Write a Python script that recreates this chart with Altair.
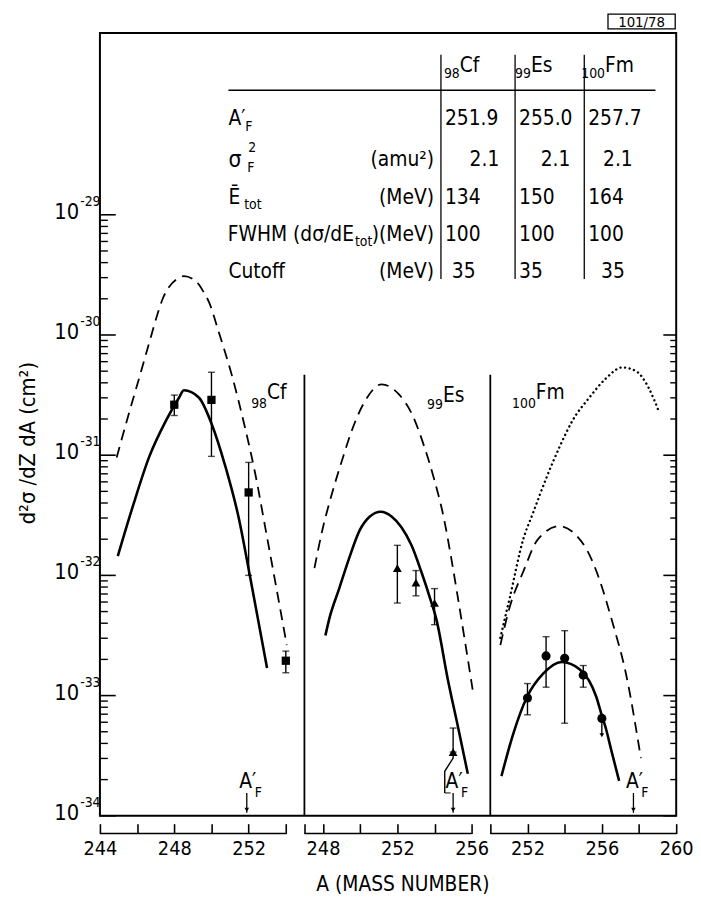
import altair as alt
import pandas as pd

FONT = "Liberation Sans Narrow, DejaVu Sans Condensed, Roboto Condensed, Arial Narrow, sans-serif"

# ---------------- data ----------------
panel_elem = ["Cf", "Es", "Fm"]
panel_Z = ["98", "99", "100"]
panel_offset = [0, 8, 15]                      # shift of each panel's A axis on the common axis
panel_span = [[244, 254], [247, 256], [250, 260]]
panel_ticks = [[244, 246, 248, 250, 252, 254],
               [247, 248, 250, 252, 254, 256],
               [250, 252, 254, 256, 258, 260]]
panel_labels = [[244, 248, 252], [248, 252, 256], [252, 256, 260]]

# table
AF = [251.9, 255.0, 257.7]
sigma2 = ["2.1", "2.1", "2.1"]
Etot = ["134", "150", "164"]
FWHM = ["100", "100", "100"]
cutoff = ["35", "35", "35"]

# curves: A and log10(d2sigma/dZdA)
cf_dash_A = [244.90, 245.49, 246.07, 246.66, 247.09, 247.40, 247.72, 248.10, 248.52, 248.95,
             249.32, 249.64, 249.85, 250.38, 251.07, 251.82, 252.35, 252.88, 253.57, 254.05]
cf_dash_L = [-31.02, -30.69, -30.38, -30.06, -29.83, -29.69, -29.60, -29.54, -29.51, -29.53,
             -29.58, -29.66, -29.72, -29.97, -30.32, -30.78, -31.15, -31.59, -32.17, -32.58]
cf_solid_A = [244.96, 245.76, 246.66, 247.56, 248.26, 248.52, 249.32, 250.01, 250.76, 251.45,
              252.1, 252.99]
cf_solid_L = [-31.84, -31.43, -31.01, -30.71, -30.52, -30.46, -30.52, -30.74, -31.10, -31.51,
              -32.03, -32.77]
es_dash_A = [247.54, 247.97, 248.5, 249.03, 249.56, 250.26, 251.16, 252.06, 252.76, 253.45,
             253.98, 254.51, 254.88, 255.26, 255.68, 256.05]
es_dash_L = [-31.94, -31.62, -31.31, -31.04, -30.79, -30.55, -30.41, -30.49, -30.65, -30.93,
             -31.20, -31.53, -31.84, -32.19, -32.59, -32.95]
es_solid_A = [248.13, 248.34, 248.87, 249.4, 249.99, 250.52, 251.11, 251.69, 252.22, 252.76,
              253.29, 253.82, 254.09, 254.72, 255.26, 255.79]
es_solid_L = [-32.50, -32.36, -32.11, -31.86, -31.62, -31.51, -31.47, -31.51, -31.60, -31.75,
              -31.97, -32.22, -32.36, -32.87, -33.26, -33.65]
fm_dot_A = [250.54, 251.07, 251.77, 252.30, 253.04, 253.73, 254.43, 255.33, 256.23, 257.09,
            257.83, 258.52, 259.05]
fm_dot_L = [-32.52, -32.17, -31.70, -31.48, -31.18, -30.93, -30.71, -30.52, -30.36, -30.27,
            -30.30, -30.44, -30.63]
fm_dash_A = [250.54, 251.07, 251.77, 252.56, 253.73, 254.64, 255.17, 255.86, 256.55, 257.3, 258.1]
fm_dash_L = [-32.58, -32.25, -31.97, -31.70, -31.59, -31.67, -31.78, -32.03, -32.38, -32.82, -33.52]
fm_solid_A = [250.6, 251.23, 251.98, 252.83, 253.84, 254.8, 255.7, 255.97, 256.23, 256.5, 256.93]
fm_solid_L = [-33.67, -33.32, -33.01, -32.82, -32.72, -32.78, -33.01, -33.15, -33.28, -33.45, -33.71]

# measured points (A, log10 value, log10 low, log10 high)
cf_pts_A = [248, 250, 252, 254]
cf_pts_L = [-30.58, -30.54, -31.31, -32.71]
cf_pts_lo = [-30.67, -31.01, -32.00, -32.81]
cf_pts_hi = [-30.50, -30.31, -31.06, -32.63]
es_pts_A = [252, 253, 254, 255]
es_pts_L = [-31.94, -32.06, -32.23, -33.47]
es_pts_lo = [-32.23, -32.17, -32.41, -33.47]
es_pts_hi = [-31.75, -31.96, -32.11, -33.27]
es_bracket_A = [255, 255, 254.55, 254.55]
es_bracket_L = [-33.47, -33.52, -33.63, -33.81]
fm_pts_A = [252, 253, 254, 255, 256]
fm_pts_L = [-33.02, -32.67, -32.69, -32.83, -33.19]
fm_pts_lo = [-33.16, -32.93, -33.23, -32.93, -33.19]
fm_pts_hi = [-32.90, -32.51, -32.46, -32.75, -33.19]
fm_limit_A = [256]
fm_limit_L = [-33.19]
fm_limit_to = [-33.33]

divider_top_L = -30.33

# ---------------- layout ----------------
W, H = 583, 792
XDOM = [244, 275]
YDOM = [1e-34, 10 ** -27.487]


def xs():
    return alt.Scale(domain=XDOM, nice=False, zero=False)


def ys():
    return alt.Scale(type="log", domain=YDOM, nice=False)


tick_vals, lab_pos, lab_txt = [], [], []
for p in range(3):
    for a in panel_ticks[p]:
        tick_vals.append(a + panel_offset[p])
    for a in panel_labels[p]:
        lab_pos.append(a + panel_offset[p])
        lab_txt.append(str(a))
label_expr = " : ".join(f"datum.value == {g} ? '{t}'" for g, t in zip(lab_pos, lab_txt)) + " : ''"

XAX = alt.Axis(values=tick_vals, labelExpr=label_expr, orient="bottom", offset=8, domain=False,
               grid=False, ticks=True, tickSize=10, tickWidth=1.6, tickColor="black",
               labelFont=FONT, labelFontSize=20, labelColor="black", labelPadding=5,
               labelFlush=False, labelOverlap=False, labelAngle=0,
               title="A (MASS NUMBER)", titleFont=FONT, titleFontSize=21, titleFontWeight="normal",
               titleColor="black", titleX=306, titleY=62, titleBaseline="middle", titleAlign="center")


def X(field):
    return alt.X(field, type="quantitative", scale=xs(), axis=XAX)


def Y(field):
    return alt.Y(field, type="quantitative", scale=ys(), axis=None)


# curves table
curve_specs = [
    ("cf_dash", 0, "dash", cf_dash_A, cf_dash_L),
    ("cf_solid", 0, "solid", cf_solid_A, cf_solid_L),
    ("es_dash", 1, "dash", es_dash_A, es_dash_L),
    ("es_solid", 1, "solid", es_solid_A, es_solid_L),
    ("fm_dot", 2, "dot", fm_dot_A, fm_dot_L),
    ("fm_dash", 2, "dash", fm_dash_A, fm_dash_L),
    ("fm_solid", 2, "solid", fm_solid_A, fm_solid_L),
]
rows = []
for name, p, style, A, L in curve_specs:
    for i, (a, l) in enumerate(zip(A, L)):
        rows.append({"name": name, "style": style, "i": i, "G": a + panel_offset[p], "v": 10 ** l})
curves = pd.DataFrame(rows)


def pts_df(A, Lv, lo, hi, p):
    return pd.DataFrame({"G": [a + panel_offset[p] for a in A], "v": [10 ** l for l in Lv],
                         "lo": [10 ** l for l in lo], "hi": [10 ** l for l in hi]})


cf_pts = pts_df(cf_pts_A, cf_pts_L, cf_pts_lo, cf_pts_hi, 0)
es_pts = pts_df(es_pts_A, es_pts_L, es_pts_lo, es_pts_hi, 1)
fm_pts = pts_df(fm_pts_A, fm_pts_L, fm_pts_lo, fm_pts_hi, 2)
all_err = pd.concat([cf_pts, es_pts, fm_pts])
all_err = all_err[all_err["lo"] < all_err["hi"]]

layers = []


def line_layer(style, **kw):
    d = curves[curves["style"] == style]
    return alt.Chart(d).mark_line(color="black", interpolate="monotone", **kw).encode(
        x=X("G"), y=Y("v"), detail="name:N", order="i:Q")


layers.append(line_layer("solid", strokeWidth=2.6))
layers.append(line_layer("dash", strokeWidth=1.8, strokeDash=[11, 7]))
layers.append(line_layer("dot", strokeWidth=2.4, strokeDash=[0.1, 4.6], strokeCap="round"))

# error bars
layers.append(alt.Chart(all_err).mark_rule(color="black", strokeWidth=1.4).encode(
    x=X("G"), y=Y("lo"), y2="hi"))
layers.append(alt.Chart(all_err).mark_tick(color="black", orient="horizontal", size=7, thickness=1.4).encode(
    x=X("G"), y=Y("lo")))
layers.append(alt.Chart(all_err).mark_tick(color="black", orient="horizontal", size=7, thickness=1.4).encode(
    x=X("G"), y=Y("hi")))

# bracket on the last Es point
br = pd.DataFrame({"G": [a + panel_offset[1] for a in es_bracket_A], "v": [10 ** l for l in es_bracket_L],
                   "i": list(range(len(es_bracket_A)))})
layers.append(alt.Chart(br).mark_line(color="black", strokeWidth=1.4).encode(x=X("G"), y=Y("v"), order="i:Q"))
layers.append(alt.Chart(br.tail(1)).mark_tick(color="black", orient="horizontal", size=6, thickness=1.4,
                                               xOffset=3).encode(x=X("G"), y=Y("v")))

# upper-limit arrow on the last Fm point
lim = pd.DataFrame({"G": [a + panel_offset[2] for a in fm_limit_A], "v": [10 ** l for l in fm_limit_L],
                    "to": [10 ** l for l in fm_limit_to]})
layers.append(alt.Chart(lim).mark_rule(color="black", strokeWidth=1.4).encode(x=X("G"), y=Y("v"), y2="to"))
layers.append(alt.Chart(lim).mark_point(shape="triangle-down", filled=True, color="black", size=22, opacity=1).encode(
    x=X("G"), y=Y("to")))

# markers
layers.append(alt.Chart(cf_pts).mark_square(color="black", size=70, opacity=1).encode(x=X("G"), y=Y("v")))
layers.append(alt.Chart(es_pts).mark_point(shape="triangle-up", filled=True, color="black", size=80, opacity=1).encode(
    x=X("G"), y=Y("v")))
layers.append(alt.Chart(fm_pts).mark_circle(color="black", size=85, opacity=1).encode(x=X("G"), y=Y("v")))

# panel dividers
div = pd.DataFrame({"G": [panel_offset[1] + panel_span[1][0], panel_offset[2] + panel_span[2][0]],
                    "top": [10 ** divider_top_L] * 2, "bot": [YDOM[0]] * 2})
layers.append(alt.Chart(div).mark_rule(color="black", strokeWidth=1.8).encode(x=X("G"), y=Y("top"), y2="bot"))

# bottom brackets of the x axis
brk = pd.DataFrame({"G0": [s[0] + o for s, o in zip(panel_span, panel_offset)],
                    "G1": [s[1] + o for s, o in zip(panel_span, panel_offset)]})
layers.append(alt.Chart(brk).mark_rule(color="black", strokeWidth=1.6).encode(
    x=X("G0"), x2="G1", y=alt.value(H + 18)))

# y ticks (inside), left and right
minor_rows, major_rows, rminor_rows, rmajor_rows = [], [], [], []
for e in range(-34, -28):
    major_rows.append({"v": 10.0 ** e, "e": e})
    if e < -29:
        for m in range(2, 10):
            minor_rows.append({"v": m * 10.0 ** e})
for e in range(-34, -29):
    rmajor_rows.append({"v": 10.0 ** e})
    if e < -30:
        for m in range(2, 10):
            rminor_rows.append({"v": m * 10.0 ** e})
majors = pd.DataFrame(major_rows)
layers.append(alt.Chart(majors).mark_rule(color="black", strokeWidth=1.6).encode(
    y=Y("v"), x=alt.value(0), x2=alt.value(16)))
layers.append(alt.Chart(pd.DataFrame(minor_rows)).mark_rule(color="black", strokeWidth=1.4).encode(
    y=Y("v"), x=alt.value(0), x2=alt.value(8)))
layers.append(alt.Chart(pd.DataFrame(rmajor_rows)).mark_rule(color="black", strokeWidth=1.6).encode(
    y=Y("v"), x=alt.value(W), x2=alt.value(W - 13)))
layers.append(alt.Chart(pd.DataFrame(rminor_rows)).mark_rule(color="black", strokeWidth=1.4).encode(
    y=Y("v"), x=alt.value(W), x2=alt.value(W - 6)))

# y tick labels 10^e
majors["exp"] = majors["e"].astype(str)
layers.append(alt.Chart(majors).mark_text(font=FONT, fontSize=22, align="right", baseline="middle", dy=-3,
                                          color="black", text="10").encode(y=Y("v"), x=alt.value(-21)))
layers.append(alt.Chart(majors).mark_text(font=FONT, fontSize=14, align="left", baseline="middle", dy=-13,
                                          color="black").encode(y=Y("v"), x=alt.value(-20), text="exp:N"))

# A'_F arrows
af = pd.DataFrame({"G": [a + o for a, o in zip(AF, panel_offset)]})
layers.append(alt.Chart(af).mark_rule(color="black", strokeWidth=1.3).encode(
    x=X("G"), y=alt.value(H - 23), y2=alt.value(H - 3)))
layers.append(alt.Chart(af).mark_point(shape="triangle-down", filled=True, color="black", size=22, opacity=1).encode(
    x=X("G"), y=alt.value(H - 6)))
layers.append(alt.Chart(af).mark_text(font=FONT, fontSize=21, align="center", baseline="middle", dx=1,
                                      color="black", text="A′").encode(x=X("G"), y=alt.value(H - 34)))
layers.append(alt.Chart(af).mark_text(font=FONT, fontSize=14, align="left", baseline="middle", dx=8,
                                      color="black", text="F").encode(x=X("G"), y=alt.value(H - 23)))

dummy = pd.DataFrame({"a": [0]})


def txt(s, x, y, size=21, align="left", angle=0):
    kw = {}
    if angle:
        kw["angle"] = angle
    return alt.Chart(dummy).mark_text(text=s, font=FONT, fontSize=size, align=align, baseline="middle",
                                      color="black", **kw).encode(x=alt.value(x), y=alt.value(y))


def rule(x, y, x2=None, y2=None, w=1.3):
    enc = {"x": alt.value(x), "y": alt.value(y)}
    if x2 is not None:
        enc["x2"] = alt.value(x2)
    if y2 is not None:
        enc["y2"] = alt.value(y2)
    return alt.Chart(dummy).mark_rule(color="black", strokeWidth=w).encode(**enc)


# panel labels
lab_anchor = [(169, 364, 375), (347, 367, 376), (441, 364, 375)]
for (x, yb, ys_), z, el in zip(lab_anchor, panel_Z, panel_elem):
    layers.append(txt(z, x, ys_, 14, "right"))
    layers.append(txt(el, x, yb, 21, "left"))

# y axis title
layers.append(txt("d²σ /dZ dA (cm²)", -73, 415, 22, "center", angle=270))

# table
layers.append(rule(130, 58, x2=562))
for x in [345, 420, 490]:
    layers.append(rule(x, 22, y2=249))
head_x = [364, 436, 511]
for x, z, el in zip(head_x, panel_Z, panel_elem):
    layers.append(txt(z, x, 42, 14, "right"))
    layers.append(txt(el, x, 34, 21, "left"))
row_y = [87, 129, 167, 205, 242]
# row labels
layers.append(txt("A′", 130, row_y[0], 21))
layers.append(txt("F", 147, row_y[0] + 8, 14))
layers.append(txt("σ", 130, row_y[1], 23))
layers.append(txt("2", 150, row_y[1] - 13, 14))
layers.append(txt("F", 149, row_y[1] + 8, 14))
layers.append(txt("Ē", 130, row_y[2], 21))
layers.append(txt("tot", 146, row_y[2] + 7, 14))
layers.append(txt("FWHM (dσ/dE", 257, row_y[3], 21, "right"))
layers.append(txt("tot", 258, row_y[3] + 7, 14))
layers.append(txt(")(MeV)", 338, row_y[3], 21, "right"))
layers.append(txt("Cutoff", 130, row_y[4], 21))
layers.append(txt("(amu²)", 338, row_y[1], 21, "right"))
layers.append(txt("(MeV)", 338, row_y[2], 21, "right"))
layers.append(txt("(MeV)", 338, row_y[4], 21, "right"))
col_left = [349, 424, 494]
col_right = [404, 476, 539]
col_center = [368, 436, 519]
table_rows = [([f"{v:.1f}" for v in AF], "left"), (sigma2, "right"), (Etot, "left"),
              (FWHM, "left"), (cutoff, "center")]
for (vals, al), y in zip(table_rows, row_y):
    xs_ = {"left": col_left, "right": col_right, "center": col_center}[al]
    for v, x in zip(vals, xs_):
        layers.append(txt(v, x, y, 21, al))

# reference box "101/78"
layers.append(alt.Chart(dummy).mark_rect(fillOpacity=0, stroke="black", strokeWidth=1.3).encode(
    x=alt.value(514), x2=alt.value(582), y=alt.value(-19), y2=alt.value(-4)))
layers.append(txt("101/78", 548, -11, 15, "center"))

chart = alt.layer(*layers).properties(
    width=W, height=H,
    padding={"left": 93, "top": 20, "right": 17, "bottom": 81},
    autosize=alt.AutoSizeParams(type="none"),
    background="white",
).configure_view(stroke="black", strokeWidth=2)

chart.save("out.html", embed_options={"renderer": "svg", "actions": False})
